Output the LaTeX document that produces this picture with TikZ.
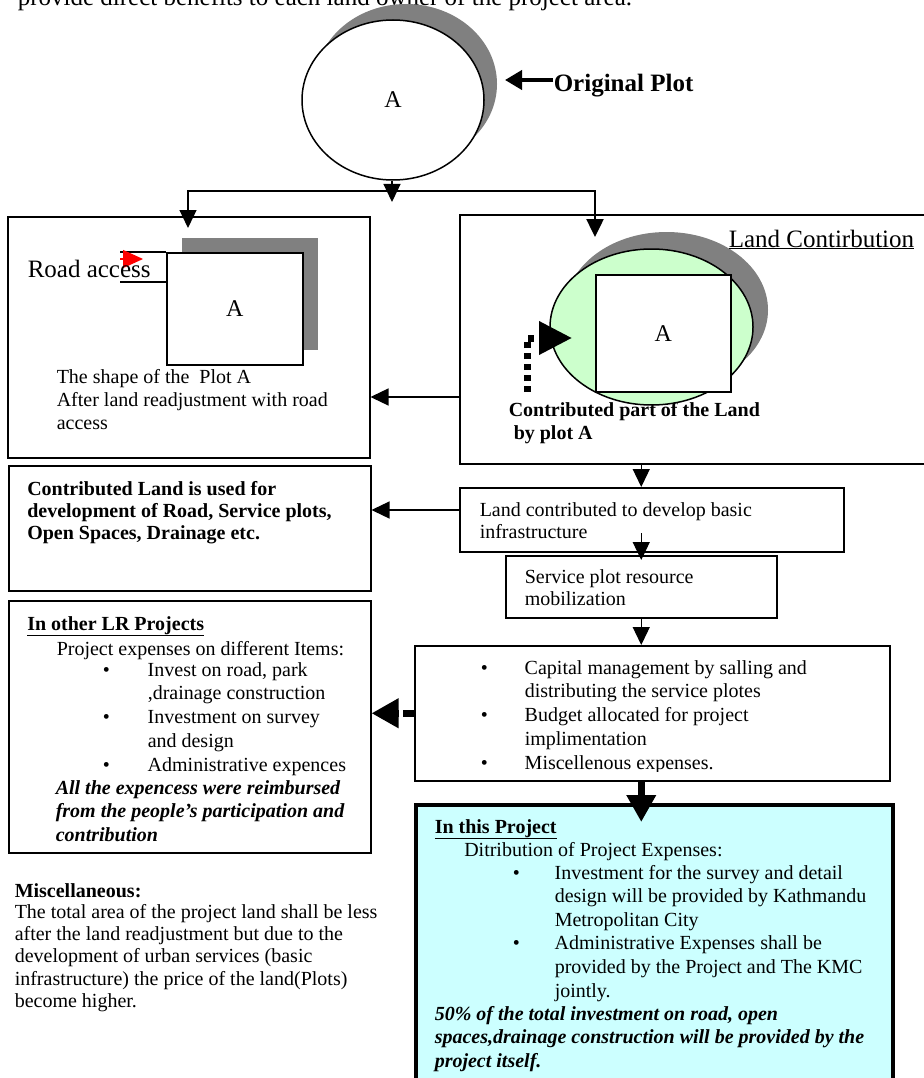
\documentclass[tikz,border=0pt]{standalone}
\usepackage{fontspec}
\setmainfont{Liberation Serif}
\usetikzlibrary{arrows.meta, positioning, shapes.geometric, shadows}
\definecolor{landgreen}{RGB}{204,255,204}
\definecolor{projcyan}{RGB}{204,255,255}
\newcommand{\lns}[1]{\begin{tabular}[t]{@{}l@{}}#1\end{tabular}}
\newcommand{\bul}[1]{\makebox[#1][l]{\textbullet}}

\begin{document}
\begin{tikzpicture}[x=1pt, y=-1pt, line width=1.5pt]
    \tikzstyle{box}=[draw, rectangle, anchor=north west, inner sep=0pt, font=\fontsize{24}{28}\selectfont]
    \tikzstyle{txt}=[anchor=base west, inner sep=0pt, font=\fontsize{20}{23}\selectfont]
    \tikzstyle{big}=[anchor=base west, inner sep=0pt, font=\fontsize{25}{29}\selectfont]
    \tikzstyle{arr}=[-{Triangle[length=18pt,width=17pt]}, line width=1.3pt]
    \tikzstyle{fat arr}=[-{Triangle[length=27pt,width=28pt]}, line width=7pt]
    \tikzstyle{dot arr}=[fat arr, line cap=butt, dash pattern=on 6pt off 5pt]
    \tikzstyle{shadowed}=[drop shadow={shadow xshift=15pt, shadow yshift=15pt, fill=black!50, opacity=1}]

    \useasboundingbox (0,0) rectangle (923,1078);

    % Text above the diagram (cut by the page)
    \node[big] (intro) at (17,6) {provide direct benefits to each land owner of the project area.};

    % Draw the original plot
    \node[ellipse, draw, fill=white, minimum width=182pt, minimum height=160pt, inner sep=0pt,
          drop shadow={shadow xshift=13pt, shadow yshift=16pt, fill=black!50, opacity=1},
          font=\fontsize{24}{28}\selectfont] (plot) at (393,100) {A};
    \node[big, font=\fontsize{25}{29}\selectfont\bfseries] (orig) at (553,92) {Original Plot};
    \coordinate (origtip) at (505,80);
    \draw[-{Triangle[length=17pt,width=19pt]}, line width=4pt] (orig.west |- origtip) -- (origtip);

    % Draw the boxes
    \node[box, minimum width=362pt, minimum height=241pt] (shape) at (7,216) {};
    \node[box, minimum width=500pt, minimum height=249pt] (contrib) at (459,214) {};
    \node[box, minimum width=362pt, minimum height=125pt] (used) at (8,465) {};
    \node[box, minimum width=384pt, minimum height=64pt] (land) at (459,487) {};
    \node[box, minimum width=271pt, minimum height=62pt] (service) at (505,555) {};
    \node[box, minimum width=362pt, minimum height=252pt] (other) at (8,600) {};
    \node[box, minimum width=475pt, minimum height=135pt] (capital) at (414,645) {};
    \node[box, minimum width=477pt, minimum height=300pt, fill=projcyan, line width=3.5pt] (project) at (414,803) {};

    % Plot A after readjustment
    \node[box, fill=white, minimum width=136pt, minimum height=112pt, shadowed] (plotA) at (166,252) {A};
    \draw[line width=1.3pt] (plotA.north west) -- ++(-46,0);
    \draw[line width=1.3pt] ([yshift=-30pt]plotA.north west) -- ++(-46,0);
    \coordinate (roadend) at (120,259);
    \draw[red, line width=1.3pt, -{Triangle[length=20pt,width=18pt]}] (roadend) -- ++(23,0);
    \node[big] (roadlbl) at (27,277) {Road access};
    \node[txt] (shapelbl) at (56,383) {\lns{The shape of the~ Plot A\\After land readjustment with road\\access}};

    % Land contribution
    \node[ellipse, draw, fill=landgreen, minimum width=203pt, minimum height=156pt, inner sep=0pt,
          drop shadow={shadow xshift=15pt, shadow yshift=17pt, fill=black!50, opacity=1}] (landcut) at (651.5,327) {};
    \node[box, fill=white, minimum width=135pt, minimum height=117pt] (plotB) at (595,274) {A};
    \node[big] (contlbl) at (728,247) {\underline{Land Contirbution}};
    \coordinate (partfoot) at (527,392);
    \coordinate (parttip) at (572,338);
    \draw[dot arr, -{Triangle[length=33pt,width=32pt]}] (partfoot) |- (parttip);
    \node[txt, font=\fontsize{20}{23}\selectfont\bfseries] (partlbl) at (508,416) {\lns{Contributed part of the Land\\\hspace{5pt}by plot A}};

    % Texts of the boxes
    \node[txt, font=\fontsize{20}{22}\selectfont\bfseries] (usedlbl) at (26.5,495) {\lns{Contributed Land is used for\\development of Road, Service plots,\\Open Spaces, Drainage etc.}};
    \node[txt, font=\fontsize{20}{22}\selectfont] (landlbl) at (479,516) {\lns{Land contributed to develop basic\\infrastructure}};
    \node[txt, font=\fontsize{20}{22}\selectfont] (servicelbl) at (524,583) {\lns{Service plot resource\\mobilization}};
    \begin{scope}
        \clip (capital.north west) rectangle (capital.east |- 0,771);
        \node[txt, font=\fontsize{20}{23.75}\selectfont] (capitallbl) at (480,674) {\lns{\bul{44pt}Capital management by salling and\\\hspace{44pt}distributing the service plotes\\\bul{44pt}Budget allocated for project\\\hspace{44pt}implimentation\\\bul{44pt}Miscellenous expenses.}};
    \end{scope}

    % In other LR projects
    \node[txt, font=\fontsize{20}{23}\selectfont\bfseries] (otherhead) at (26.5,630) {\underline{In other LR Projects}};
    \node[txt] (otheritems) at (56,655) {Project expenses on different Items:};
    \node[txt, font=\fontsize{20}{23.75}\selectfont] (otherlist) at (102,676) {\lns{\bul{45pt}Invest on road, park\\\hspace{45pt},drainage construction\\\bul{45pt}Investment on survey\\\hspace{45pt}and design\\\bul{45pt}Administrative expences}};
    \node[txt, font=\fontsize{20}{23.5}\selectfont\bfseries\itshape] (othernote) at (55,794) {\lns{All the expencess were reimbursed\\from the people's participation and\\contribution}};

    % In this project
    \node[txt, font=\fontsize{20}{23}\selectfont\bfseries] (projhead) at (434,833) {\underline{In this Project}};
    \node[txt] (projitems) at (463.5,856) {Ditribution of Project Expenses:};
    \node[txt, font=\fontsize{20}{23.6}\selectfont] (projlist) at (512,879) {\lns{\bul{42pt}Investment for the survey and detail\\\hspace{42pt}design will be provided by Kathmandu\\\hspace{42pt}Metropolitan City\\\bul{42pt}Administrative Expenses shall be\\\hspace{42pt}provided by the Project and The KMC\\\hspace{42pt}jointly.}};
    \node[txt, font=\fontsize{20}{23.5}\selectfont\bfseries\itshape] (projnote) at (434,1020) {\lns{50\% of the total investment on road, open\\spaces,drainage construction will be provided by the\\project itself.}};

    % Miscellaneous
    \node[txt, font=\fontsize{20}{23}\selectfont\bfseries] (mischead) at (14,897) {Miscellaneous:};
    \node[txt, font=\fontsize{20}{22.4}\selectfont] (misclbl) at (14,918) {\lns{The total area of the project land shall be less\\after the land readjustment but due to the\\development of urban services (basic\\infrastructure) the price of the land(Plots)\\become higher.}};

    % Connect the plot with both boxes
    \coordinate (fork) at (392,191);
    \coordinate (forktip) at (392,202);
    \coordinate (roadin) at (188,228);
    \coordinate (contin) at (595,237);
    \draw[arr] (plot.south -| fork) -- (forktip);
    \draw[arr] (fork) -| (roadin);
    \draw[arr, line width=2.5pt] (fork) -| (contin);

    % Connect the boxes
    \draw[arr] (contrib.west |- 0,397) -- (shape.east |- 0,397);
    \draw[arr] (service.north |- contrib.south) -- (service.north |- land.north);
    \draw[arr] (land.west |- 0,510) -- (used.east |- 0,510);
    \draw[arr] ([yshift=22pt]service.north) -- ([yshift=-5pt]service.north);
    \draw[arr] (service.south) -- (service.south |- capital.north);
    \draw[dot arr, dash pattern=on 11pt off 4pt] (capital.west) -- (capital.west -| other.east);
    \draw[fat arr] (service.south |- capital.south) -- (service.south |- 0,822);
\end{tikzpicture}
\end{document}
